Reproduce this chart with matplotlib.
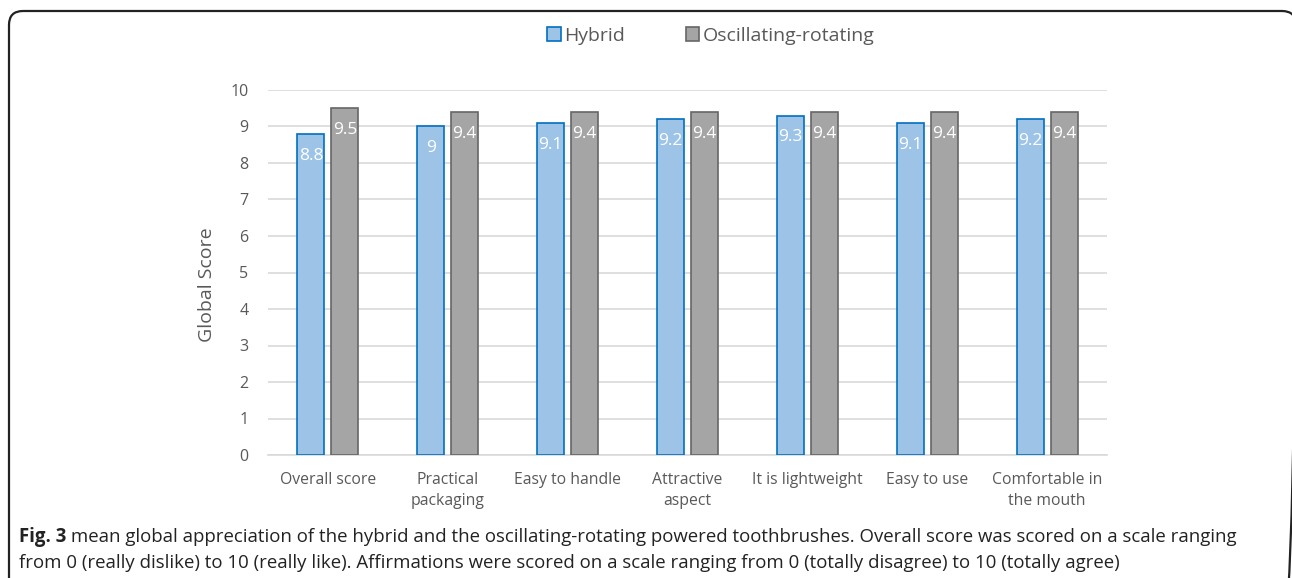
import numpy as np
import matplotlib.pyplot as plt
from matplotlib.patches import FancyBboxPatch

# Mean scores per item
categories = ['Overall score', 'Practical\npackaging', 'Easy to handle', 'Attractive\naspect',
              'It is lightweight', 'Easy to use', 'Comfortable in\nthe mouth']
hybrid = [8.8, 9.0, 9.1, 9.2, 9.3, 9.1, 9.2]
oscillating = [9.5, 9.4, 9.4, 9.4, 9.4, 9.4, 9.4]
hybrid_labels = ['8.8', '9', '9.1', '9.2', '9.3', '9.1', '9.2']
osc_labels = ['9.5', '9.4', '9.4', '9.4', '9.4', '9.4', '9.4']

plt.rcParams['font.family'] = ['Open Sans', 'DejaVu Sans']
text_color = '#595959'

W, H = 1292, 578
fig = plt.figure(figsize=(W / 100, H / 100), dpi=100)

# full-figure layer in pixel units for the frame and caption
bg = fig.add_axes([0, 0, 1, 1])
bg.set_xlim(0, W)
bg.set_ylim(H, 0)
bg.axis('off')
bg.add_patch(FancyBboxPatch((9, 11), 1296 - 9, 620, boxstyle='round,pad=0,rounding_size=14',
                            fill=False, edgecolor='#222222', linewidth=1.6))

ax = fig.add_axes([268 / W, (H - 455) / H, (1107 - 268) / W, (455 - 90) / H])

x = np.arange(len(categories))
bw = 0.225
off = 0.142
b1 = ax.bar(x - off, hybrid, bw, color='#9DC3E6', edgecolor='#0070C0',
            linewidth=1.2, label='Hybrid', zorder=3)
b2 = ax.bar(x + off, oscillating, bw, color='#A5A5A5', edgecolor='#666666',
            linewidth=1.2, label='Oscillating-rotating', zorder=3)

for bars, labs in ((b1, hybrid_labels), (b2, osc_labels)):
    for rect, lab in zip(bars, labs):
        ax.annotate(lab, (rect.get_x() + rect.get_width() / 2, rect.get_height()),
                    xytext=(0, -10), textcoords='offset points',
                    ha='center', va='top', color='white', fontsize=12.5, zorder=4)

ax.set_xlim(-0.5, len(categories) - 0.5)
ax.set_ylim(0, 10)
ax.set_yticks(range(0, 11))
ax.yaxis.grid(True, color='#D9D9D9', linewidth=1.2, zorder=0)
ax.set_axisbelow(True)
for s in ['top', 'right', 'left']:
    ax.spines[s].set_visible(False)
ax.spines['bottom'].set_color('#D9D9D9')
ax.spines['bottom'].set_linewidth(1.2)

ax.set_xticks(x)
ax.set_xticklabels(categories, fontsize=11.3, color=text_color, linespacing=1.45)
ax.tick_params(axis='x', length=0, pad=12)
ax.tick_params(axis='y', length=0, pad=14, labelsize=11.5, labelcolor=text_color)

ax.set_ylabel('Global Score', fontsize=14, color=text_color)
ax.yaxis.set_label_coords((216 - 268) / (1107 - 268), (455 - 285) / 365)

fig.legend(handles=[b1, b2], loc='center', bbox_to_anchor=(711 / W, 1 - 36 / H),
           ncol=2, frameon=False, fontsize=14, labelcolor=text_color,
           handlelength=0.7, handleheight=0.7, handletextpad=0.2,
           columnspacing=3.1)

# caption
cap = dict(fontsize=13.4, color='#222222', va='center', ha='left')
fig_lbl = bg.text(19, 537, 'Fig. 3', fontweight='bold', **cap)
bg.annotate(' mean global appreciation of the hybrid and the oscillating-rotating powered '
            'toothbrushes. Overall score was scored on a scale ranging',
            xy=(1, 0.5), xycoords=fig_lbl, **cap)
bg.text(19, 563, 'from 0 (really dislike) to 10 (really like). Affirmations were scored on a '
        'scale ranging from 0 (totally disagree) to 10 (totally agree)', **cap)

fig.savefig('out.png', dpi=100)
